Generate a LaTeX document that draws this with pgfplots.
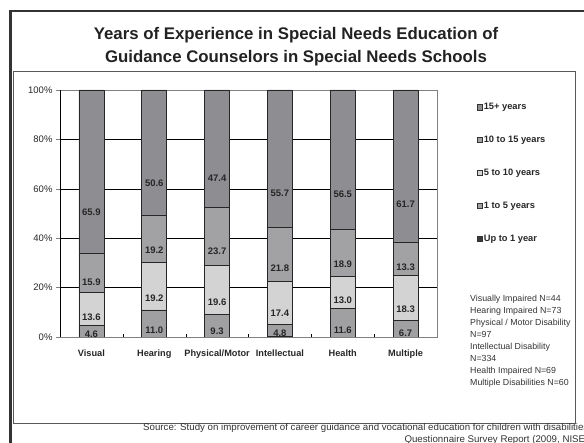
\documentclass[border=0pt]{standalone}
\usepackage{pgfplots}
\pgfplotsset{compat=1.18}
\usepackage{pgfplotstable}
\usepackage{fontspec}
\setmainfont{Liberation Sans}
\definecolor{cUp}{HTML}{3A3A3A}
\definecolor{cOne}{HTML}{A0A0A2}
\definecolor{cFive}{HTML}{D3D3D3}
\definecolor{cTen}{HTML}{A2A2A4}
\definecolor{cFif}{HTML}{8E8E92}
\definecolor{titlec}{HTML}{222222}

\pgfplotstableread{
x up1 one5 five10 ten15 fifteen
0 0   4.6  13.6 15.9 65.9
1 0   11.0 19.2 19.2 50.6
2 0   9.3  19.6 23.7 47.4
3 0.3 4.8  17.4 21.8 55.7
4 0   11.6 13.0 18.9 56.5
5 0   6.7  18.3 13.3 61.7
}\data

\pgfplotsset{
  myleg/.style={legend image code/.code={\draw[##1, draw=black!80, line width=0.4pt] (0pt,-2.6pt) rectangle (5.2pt,2.6pt);}},
  lab/.style={
    point meta=rawy,
    visualization depends on=rawy\as\rawy,
    nodes near coords={\pgfmathprintnumber[fixed,fixed zerofill,precision=1]{\pgfplotspointmeta}},
    every node near coord/.append style={anchor=center, yshift={-\rawy*0.6175pt}, font=\fontsize{9.5}{10}\selectfont\bfseries, text=black!85, inner sep=0pt},
  },
}

\begin{document}
\begin{tikzpicture}
\useasboundingbox (0pt,0pt) rectangle (584pt,443pt);
% frames
\draw[line width=0.8pt, draw=black!65] (13pt,372pt) rectangle (575pt,20pt);
\draw[line width=2pt, draw=black!80] (10.5pt,432pt) -- (600pt,432pt);
\draw[line width=3pt, draw=black!80] (10.5pt,433pt) -- (10.5pt,-10pt);
% title
\node[anchor=base, inner sep=0pt, font=\fontsize{16.8}{20}\selectfont\bfseries, text=titlec] at (296pt,403pt) {Years of Experience in Special Needs Education of};
\node[anchor=base, inner sep=0pt, font=\fontsize{16.8}{20}\selectfont\bfseries, text=titlec] at (296pt,380pt) {Guidance Counselors in Special Needs Schools};
% N text
\node[anchor=north west, inner sep=0pt, align=left, font=\fontsize{8.8}{12}\selectfont, text=black!80] at (470pt,148pt) {Visually Impaired N=44\\Hearing Impaired N=73\\Physical / Motor Disability\\N=97\\Intellectual Disability\\N=334\\Health Impaired N=69\\Multiple Disabilities N=60};
% source
\node[anchor=base west, inner sep=0pt, font=\fontsize{9.7}{10}\selectfont, text=black!80] (s1) at (143pt,12pt) {Source: Study on improvement of career guidance and vocational education for children with disabilities};
\node[anchor=base east, inner sep=0pt, font=\fontsize{9.7}{10}\selectfont, text=black!80] at ([yshift=-12pt]s1.base east) {Questionnaire Survey Report (2009, NISE)};

\begin{axis}[
  at={(60pt,106pt)}, anchor=south west, scale only axis,
  width=377pt, height=247pt,
  ybar stacked, bar width=25pt,
  xmin=-0.5, xmax=5.5, ymin=0, ymax=100,
  tick pos=left,
  xtick={0,...,5},
  xticklabels={Visual,Hearing,Physical/Motor,Intellectual,Health,Multiple},
  x tick label style={font=\fontsize{9.2}{10}\selectfont\bfseries, text=black!85, yshift=-5pt},
  major x tick style={draw=none},
  minor xtick={0.5,1.5,2.5,3.5,4.5},
  minor x tick style={draw=black, yshift=3pt},
  minor tick length=3pt,
  ytick={0,20,40,60,80,100},
  yticklabel={\pgfmathprintnumber{\tick}\%},
  y tick label style={font=\fontsize{9.5}{10}\selectfont, text=black!85},
  major tick length=4pt,
  tick align=outside,
  ymajorgrids, grid style={black, line width=0.5pt},
  axis line style={draw=gray},
  /pgf/number format/assume math mode=true,
  reverse legend,
  legend style={at={(1,1)}, anchor=north west, xshift=40pt, yshift=-12pt,
    draw=none, fill=none, row sep=23pt, inner sep=0pt,
    font=\fontsize{9.3}{10}\selectfont\bfseries, text=black!85,
    nodes={inner sep=1pt}},
  legend cell align=left,
]
\addplot[myleg, fill=cUp, draw=black!85, line width=0.5pt] table[x=x, y=up1] {\data};
\addplot[myleg, lab, fill=cOne, draw=black!85, line width=0.5pt] table[x=x, y=one5] {\data};
\addplot[myleg, lab, fill=cFive, draw=black!85, line width=0.5pt] table[x=x, y=five10] {\data};
\addplot[myleg, lab, fill=cTen, draw=black!85, line width=0.5pt] table[x=x, y=ten15] {\data};
\addplot[myleg, lab, fill=cFif, draw=black!85, line width=0.5pt] table[x=x, y=fifteen] {\data};
\legend{Up to 1 year,1 to 5 years,5 to 10 years,10 to 15 years,15+ years}
\draw[black, line width=0.6pt] (axis cs:-0.5,0) -- (axis cs:-0.5,100);
\end{axis}
\end{tikzpicture}
\end{document}
